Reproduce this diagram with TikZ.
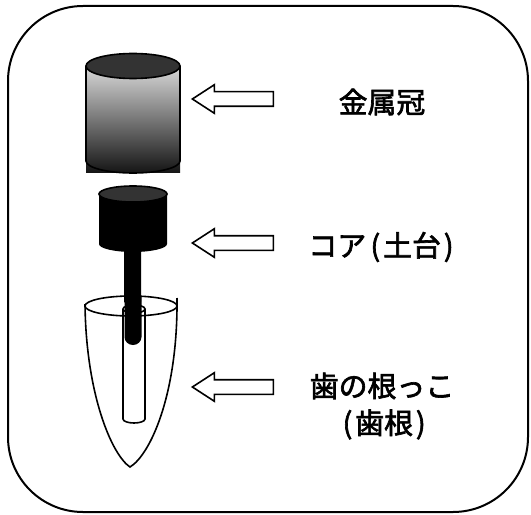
\documentclass[tikz,border=0pt]{standalone}
\usepackage{fontspec}
\newfontfamily\jpfont{Noto Sans CJK JP}[FakeBold=2.2]
\usetikzlibrary{shapes.arrows}
\tikzset{
    frame/.style={
    draw=black,line width=2bp,rounded corners=75bp
    },
    blockarrow/.style={
    single arrow,draw=black,line width=1.6bp,fill=white,shape border rotate=180,
    minimum height=81bp,minimum width=27bp,inner sep=6.5bp,
    single arrow head extend=7bp,single arrow tip angle=66
    },
    label/.style={
    font=\jpfont\fontsize{29}{37}\selectfont,align=center,inner sep=0pt
    },
    outline/.style={
    draw=black,line width=1.6bp
    },
}
\definecolor{captop}{HTML}{333333}
\newcommand{\po}{\hspace{0.15em}(\hspace{0.1em}}
\newcommand{\pc}{\hspace{0.1em})}

\begin{document}
\begin{tikzpicture}[x=1bp,y=-1bp]
   \useasboundingbox (0,0) rectangle (531,515);
   \draw[frame] (8,6) rectangle (528,512);

   % metal crown
   \shade[top color=black!15,bottom color=black!92] (86,66) rectangle (180,173);
   \draw[outline] (86,66) -- (86,161) arc[start angle=180,end angle=360,x radius=47bp,y radius=12bp] -- (180,66);
   \draw[outline,fill=captop] (133,66) ellipse[x radius=47bp,y radius=12.5bp];

   % core with post
   \fill[black] (124,240) -- (124,337) arc[start angle=180,end angle=360,x radius=8.5bp,y radius=8bp] -- (141,240) -- cycle;
   \fill[black] (99,194) -- (99,244) arc[start angle=180,end angle=360,x radius=34bp,y radius=8bp] -- (167,194) -- cycle;
   \draw[outline,fill=captop] (133,194) ellipse[x radius=34bp,y radius=8bp];

   % root
   \fill[white] (85,304) .. controls (86,395) and (112,455) .. (130,467)
     .. controls (150,455) and (178,395) .. (177,300) -- cycle;
   \draw[outline] (85,304) .. controls (86,395) and (112,455) .. (130,467)
     .. controls (150,455) and (178,395) .. (177,298);
   \draw[outline] (123,309) -- (123,419) arc[start angle=180,end angle=360,x radius=11bp,y radius=4bp] -- (145,309);
   \draw[outline] (134,309) ellipse[x radius=11bp,y radius=4bp];
   \draw[outline] (131,306) ellipse[x radius=46bp,y radius=10bp];
   \fill[black] (124.5,296) -- (124.5,337) arc[start angle=180,end angle=360,x radius=8.5bp,y radius=8bp] -- (141.5,296) -- cycle;

   % pointers and names
   \node[blockarrow] (a1) at (238.5,99) {};
   \node[blockarrow] (a2) at (238.5,243) {};
   \node[blockarrow] (a3) at (238.5,387) {};
   \node[label] (crown) at (382,102) {金属冠};
   \node[label] (core) at (381,247) {コア\po 土台\pc};
   \node[label] (root) at (382,406) {歯の根っこ\\\po 歯根\pc};
\end{tikzpicture}
\end{document}
